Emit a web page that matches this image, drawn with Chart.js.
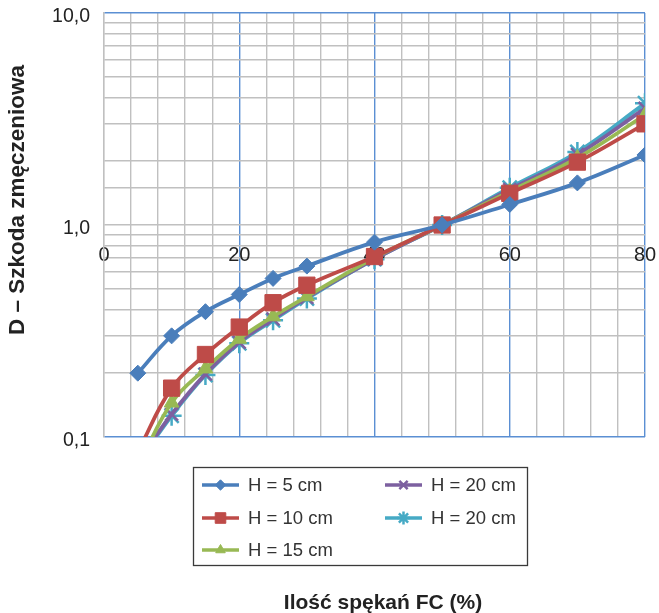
<!DOCTYPE html>
<html>
<head>
<meta charset="utf-8">
<script src="https://cdn.jsdelivr.net/npm/chart.js@4/dist/chart.umd.min.js"></script>
<style>
  body { margin: 0; background: #fff; }
</style>
</head>
<body>
<canvas id="fcChart" width="659" height="613"></canvas>
<script>
// ilość spękań FC (%)
const fc = [5, 10, 15, 20, 25, 30, 40, 50, 60, 70, 80];

// szkoda zmęczeniowa D dla poszczególnych grubości
const h5 = [0.20, 0.30, 0.39, 0.47, 0.56, 0.64, 0.83, 1.0, 1.25, 1.58, 2.14];
const h10 = [0.085, 0.17, 0.245, 0.33, 0.43, 0.52, 0.71, 1.0, 1.41, 1.98, 3.0];
const h15 = [0.072, 0.145, 0.21, 0.29, 0.37, 0.46, 0.70, 1.0, 1.44, 2.07, 3.3];
const h20a = [0.076, 0.128, 0.198, 0.28, 0.36, 0.455, 0.69, 1.0, 1.47, 2.15, 3.55];
const h20b = [0.075, 0.126, 0.196, 0.277, 0.355, 0.45, 0.69, 1.0, 1.5, 2.21, 3.75];

const seriesLabels = ['H = 5 cm', 'H = 10 cm', 'H = 15 cm', 'H = 20 cm', 'H = 20 cm'];
const xTicks = [0, 20, 40, 60, 80];
const yTicks = [0.1, 1, 10];

const blueGrid = '#5b8fd3';
const grayGrid = '#c0c0c0';
const fontFam = '"Liberation Sans", Arial, sans-serif';

function pts(vals) {
    var out = [];
    for (var i in fc) {
        out.push({ x: fc[i], y: vals[i] });
    }
    return out;
}

function ds(label, vals, color, style, radius, bw) {
    return {
        label: label,
        data: pts(vals),
        borderColor: color,
        backgroundColor: color,
        borderWidth: 3.8,
        pointStyle: style,
        pointRadius: radius,
        pointBorderWidth: bw,
        pointBackgroundColor: color,
        pointBorderColor: color,
        tension: 0.4
    };
}

function noPad(s) {
    s.paddingLeft = 0;
    s.paddingRight = 0;
    s.paddingTop = 0;
    s.paddingBottom = 0;
}

// legenda w dwóch kolumnach + tytuły osi
const extras = {
    id: 'extras',
    afterDraw(chart) {
        const ctx = chart.ctx;
        ctx.save();

        // ramka legendy
        ctx.strokeStyle = '#3a3a3a';
        ctx.lineWidth = 1.3;
        ctx.strokeRect(193.5, 467.5, 334, 98);

        const rows = [485, 518, 550];
        const helpers = Chart.helpers;
        chart.data.datasets.forEach(function (d, i) {
            const col = i < 3 ? 0 : 1;
            const row = i < 3 ? i : i - 3;
            const x0 = col === 0 ? 202 : 385;
            const y = rows[row];
            ctx.strokeStyle = d.borderColor;
            ctx.lineWidth = 3.5;
            ctx.beginPath();
            ctx.moveTo(x0, y);
            ctx.lineTo(x0 + 37, y);
            ctx.stroke();
            if (helpers && helpers.drawPoint) {
                ctx.fillStyle = d.borderColor;
                ctx.strokeStyle = d.borderColor;
                ctx.lineWidth = d.pointBorderWidth;
                helpers.drawPoint(ctx, {
                    pointStyle: d.pointStyle,
                    radius: d.pointRadius * 0.65,
                    rotation: 0,
                    borderWidth: d.pointBorderWidth
                }, x0 + 18.5, y);
            }
            ctx.fillStyle = '#333';
            ctx.font = '18.5px ' + fontFam;
            ctx.textBaseline = 'middle';
            ctx.textAlign = 'left';
            ctx.fillText(d.label, x0 + 46, y + 1);
        });

        ctx.fillStyle = '#222';
        ctx.font = 'bold 21px ' + fontFam;
        ctx.textAlign = 'center';
        ctx.textBaseline = 'middle';
        ctx.fillText('Ilość spękań FC (%)', 383, 603);

        ctx.font = 'bold 22.5px ' + fontFam;
        ctx.translate(18, 200);
        ctx.rotate(-Math.PI / 2);
        ctx.fillText('D – Szkoda zmęczeniowa', 0, 0);
        ctx.restore();
    }
};

const ctx = document.getElementById('fcChart').getContext('2d');
const myChart = new Chart(ctx, {
    type: 'line',
    data: {
        datasets: [
            ds(seriesLabels[0], h5, '#4a7ebb', 'rectRot', 8, 1),
            ds(seriesLabels[1], h10, '#be4b48', 'rect', 11.5, 1),
            ds(seriesLabels[2], h15, '#98b954', 'triangle', 8.5, 1),
            ds(seriesLabels[3], h20a, '#7d60a0', 'crossRot', 9, 2.5),
            ds(seriesLabels[4], h20b, '#46aac5', 'star', 10, 2.5)
        ]
    },
    plugins: [extras],
    options: {
        responsive: false,
        animation: false,
        layout: {
            padding: { top: 13, right: 14, bottom: 176, left: 0 }
        },
        plugins: {
            legend: { display: false },
            tooltip: { enabled: false }
        },
        scales: {
            x: {
                type: 'linear',
                position: { y: 1 },
                min: 0,
                max: 80,
                afterFit: noPad,
                border: { display: false },
                grid: {
                    drawTicks: false,
                    lineWidth: 1.4,
                    color: function (c) {
                        const v = c.tick ? c.tick.value : 0;
                        return (v > 0 && v % 20 === 0) ? blueGrid : grayGrid;
                    }
                },
                ticks: {
                    stepSize: 4,
                    autoSkip: false,
                    maxRotation: 0,
                    minRotation: 0,
                    padding: 18,
                    color: '#222',
                    font: { family: fontFam, size: 20 },
                    callback: function (v) {
                        return xTicks.indexOf(v) >= 0 ? String(v) : '';
                    }
                }
            },
            y: {
                type: 'logarithmic',
                min: 0.1,
                max: 10,
                afterFit: function (s) { s.width = 104; noPad(s); },
                border: { display: true, color: grayGrid, width: 1.4 },
                grid: {
                    drawTicks: false,
                    lineWidth: 1.4,
                    color: function (c) {
                        const v = c.tick ? c.tick.value : 0;
                        return (Math.abs(v - 0.1) < 1e-9 || Math.abs(v - 10) < 1e-9) ? blueGrid : grayGrid;
                    }
                },
                ticks: {
                    autoSkip: false,
                    padding: 14,
                    labelOffset: 4,
                    color: '#222',
                    font: { family: fontFam, size: 19.5 },
                    callback: function (v) {
                        for (var i in yTicks) {
                            if (Math.abs(v - yTicks[i]) < 1e-9) {
                                return v.toFixed(1).replace('.', ',');
                            }
                        }
                        return '';
                    }
                }
            }
        }
    }
});
</script>
</body>
</html>
